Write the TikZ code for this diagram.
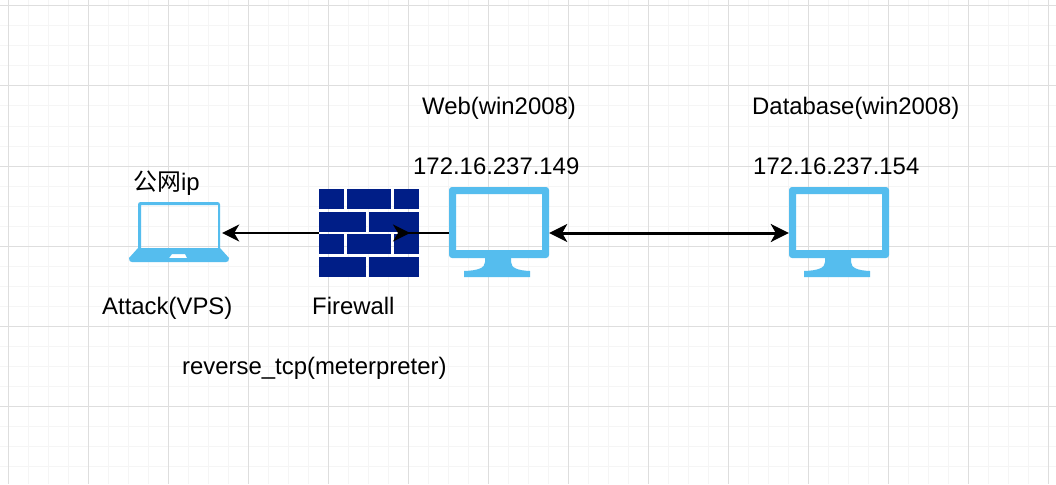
\documentclass[tikz,border=0pt]{standalone}
\usepackage{fontspec}
\setmainfont{Liberation Sans}
\newfontfamily\cjk{Noto Sans CJK SC}
\usetikzlibrary{arrows.meta}
\definecolor{gridmajor}{HTML}{DEDEDE}
\definecolor{gridminor}{HTML}{F5F5F5}
\definecolor{iconblue}{HTML}{55BDEE}
\definecolor{brick}{HTML}{001E87}
\tikzset{
  x=1pt,y=-1pt,
  label text/.style={inner sep=0pt,font=\fontsize{23.9}{28}\selectfont,text=black,anchor=base west},
  icon/.style={fill=iconblue,draw=none},
  brickpart/.style={fill=brick,draw=none},
  tip/.style={-{Stealth[length=17pt,width=17pt,inset=5pt]},line width=2pt},
  tipback/.style={-{Stealth[length=17pt,width=17pt,inset=5pt,reversed]},line width=2pt},
  tiptwo/.style={{Stealth[length=18pt,width=18pt,inset=5pt]}-{Stealth[length=18pt,width=18pt,inset=5pt]},line width=3pt},
  frame/.style={inner sep=0pt},
}
\newcommand{\monitor}[1]{
  \begin{scope}[xshift=#1]
    \fill[icon,even odd rule,rounded corners=3pt] (449,187) rectangle (549,258) [sharp corners] (456,194) rectangle (542,250);
    \fill[icon] (485,258) -- (485,262) .. controls (485,268) and (478,270.5) .. (464,271) -- (464,277) -- (530,277) -- (530,271) .. controls (518,270.5) and (511,268) .. (511,262) -- (511,258) -- cycle;
  \end{scope}
}
\begin{document}
\begin{tikzpicture}
\useasboundingbox (0,0) rectangle (1056,484);
\fill[white] (0,0) rectangle (1056,484);
\foreach \i in {0,...,52} {
  \draw[gridminor,line width=1pt] ({8.5+20*\i},0) -- ({8.5+20*\i},484);
}
\foreach \j in {0,...,23} {
  \draw[gridminor,line width=1pt] (0,{6+20*\j}) -- (1056,{6+20*\j});
}
\foreach \i in {0,...,13} {
  \draw[gridmajor,line width=1pt] ({8.5+80*\i},0) -- ({8.5+80*\i},484);
}
\foreach \j in {0,...,6} {
  \draw[gridmajor,line width=1pt] (0,{6+80*\j}) -- (1056,{6+80*\j});
}
\node[frame,minimum width=86pt,minimum height=60pt] (laptop) at (179,233) {};
\node[frame,minimum width=100pt,minimum height=88pt] (firewall) at (369,233) {};
\node[frame,minimum width=100pt,minimum height=90pt] (web) at (499,233) {};
\node[frame,minimum width=100pt,minimum height=90pt] (db) at (839,233) {};
\draw[tip] (firewall.west) -- (laptop.east);
% laptop
\fill[icon,even odd rule] [rounded corners=2.5pt] (138,202) rectangle (220,252) [sharp corners] (141,205) rectangle (218,248);
\fill[icon,even odd rule] (138,248) -- (220,248) -- (229,258) .. controls (229,261) and (228,262) .. (226,262) -- (132,262) .. controls (130,262) and (129,261) .. (129,258) -- cycle
  (169,258) -- (172,254) -- (185,254) -- (187,258) -- cycle;
% firewall
\foreach \y in {189,234} {
  \fill[brickpart] (319,\y) rectangle (344,\y+20);
  \fill[brickpart] (347,\y) rectangle (391,\y+20);
  \fill[brickpart] (394,\y) rectangle (419,\y+20);
}
\foreach \y in {212,257} {
  \fill[brickpart] (319,\y) rectangle (366,\y+20);
  \fill[brickpart] (369,\y) rectangle (419,\y+20);
}
\coordinate (fwback) at (393,233);
\draw[tipback] (web.west) -- (fwback);
\monitor{0pt}
\monitor{340pt}
\draw[tiptwo] (web.east) -- (db.west);
% labels
\node[label text] (t1) at (133,190) {{\cjk 公网}ip};
\node[label text] (t2) at (102,314) {Attack(VPS)};
\node[label text] (t3) at (312,314) {Firewall};
\node[label text] (t4) at (182,374) {reverse\_tcp(meterpreter)};
\node[label text] (t5) at (422,114) {Web(win2008)};
\node[label text] (t6) at (413,174) {172.16.237.149};
\node[label text] (t7) at (752,114) {Database(win2008)};
\node[label text] (t8) at (753,174) {172.16.237.154};
\end{tikzpicture}
\end{document}
